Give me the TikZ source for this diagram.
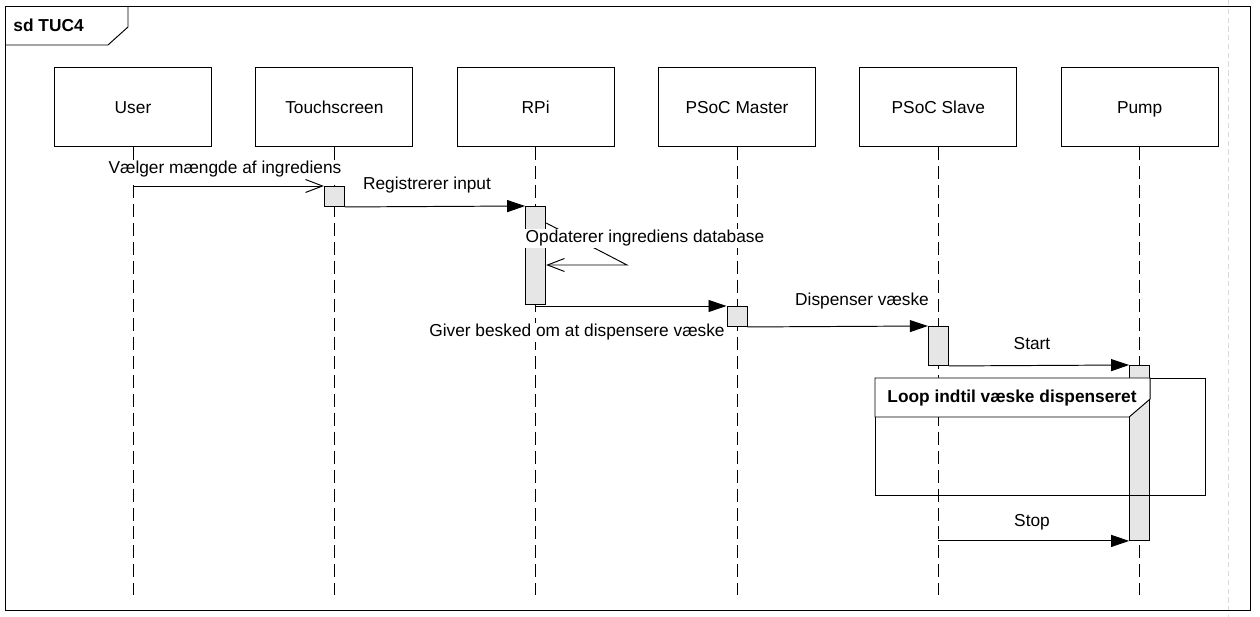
\documentclass[tikz,border=0pt]{standalone}
\usepackage{fontspec}
\setmainfont{Liberation Sans}
\usetikzlibrary{arrows.meta,positioning}

\definecolor{actgray}{RGB}{230,230,230}
\newcommand{\umlfont}{\fontsize{9.85}{11.8}\selectfont}

\tikzset{
	lifebox/.style={draw, minimum width=3.14cm, minimum height=1.58cm, font=\umlfont,
		text height=1.6ex, text depth=0.3ex},
	lifeline/.style={dash pattern=on 7.4pt off 3.4pt},
	act/.style={draw, fill=actgray, minimum width=0.4cm, anchor=north, inner sep=0pt},
	sync/.style={-{Triangle[length=0.36cm, width=0.24cm]}},
	async/.style={-{Straight Barb[length=0.34cm, width=0.26cm]}},
	lbl/.style={anchor=base, fill=white, inner sep=1pt, font=\umlfont},
	head/.style={anchor=base west, inner sep=0pt, font=\umlfont\bfseries}
}

\begin{document}
\begin{tikzpicture}[x=0.02cm, y=-0.02cm, line width=0.55pt, node distance=0.868cm]
	\useasboundingbox (0,0) rectangle (1260,617);
	\draw[black!15, line width=0.5pt, dash pattern=on 3pt off 2pt] (1228,0) -- (1228,617);

	% frame
	\draw (5,6) rectangle (1250,610);
	\draw (5,45) -- (108,45) -- (128,27) -- (128,6);
	\node[head] (sd) at (13,32) {sd TUC4};

	% lifelines
	\node[lifebox] (user) at (133,107) {User};
	\node[lifebox] (touch) [right=of user] {Touchscreen};
	\node[lifebox] (rpi) [right=of touch] {RPi};
	\node[lifebox] (master) [right=of rpi] {PSoC Master};
	\node[lifebox] (slave) [right=of master] {PSoC Slave};
	\node[lifebox] (pump) [right=of slave] {Pump};

	\foreach \n in {user,touch,rpi,master,slave,pump}
		\draw[lifeline] (\n.south) -- ++(0,448);

	% activations
	\node[act, minimum height=0.4cm] (a1) at (touch |- 0,186) {};
	\node[act, minimum height=1.96cm] (a2) at (rpi |- 0,206) {};
	\node[act, minimum height=0.4cm] (a3) at (master |- 0,306) {};
	\node[act, minimum height=0.78cm] (a4) at (slave |- 0,326) {};
	\node[act, minimum height=3.5cm] (a5) at (pump |- 0,365) {};

	% loop fragment
	\draw (875,378) rectangle (1205,495);
	\draw[fill=white] (875,378) -- (a5.east |- 0,378) -- (a5.east |- 0,399)
		-- (a5.west |- 0,417) -- (875,417) -- cycle;
	\node[head] (loop) at (887,403) {Loop indtil væske dispenseret};

	% messages
	\coordinate (s0) at (a2.east |- 0,223);
	\coordinate (s1) at (627,265);
	\draw[async] (a1.north west -| user) -- (a1.north west);
	\draw[sync] (a1.south east) -- (a2.north west);
	\draw[async] (s0) -- (s1) -- (s1 -| a2.east);
	\draw[sync] (a2.south |- a3.north west) -- (a3.north west);
	\draw[sync] (a3.south east) -- (a4.north west);
	\draw[sync] (a4.south east) -- (a5.north west);
	\draw[sync] (a5.south west -| slave) -- (a5.south west);

	\node[lbl] (m1) at (225,174) {Vælger mængde af ingrediens};
	\node[lbl] (m2) at (427,190) {Registrerer input};
	\node[lbl] (m3) at (645,243) {Opdaterer ingrediens database};
	\node[lbl] (m4) at (577,337) {Giver besked om at dispensere væske};
	\node[lbl] (m5) at (862,306) {Dispenser væske};
	\node[lbl] (m6) at (1032,350) {Start};
	\node[lbl] (m7) at (1032,526) {Stop};
\end{tikzpicture}
\end{document}
